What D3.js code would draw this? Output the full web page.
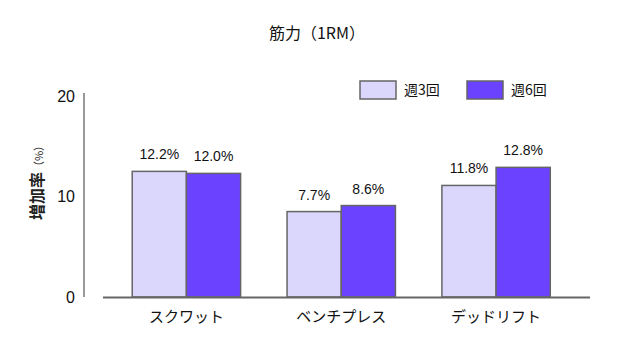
<!DOCTYPE html>
<html>
<head>
<meta charset="utf-8">
<script src="https://cdn.jsdelivr.net/npm/d3@7"></script>
<style>
  body { margin: 0; background: #fff; }
  text { font-family: "Liberation Sans", Arial, "Noto Sans CJK JP", sans-serif; }
  .jp { font-family: "Noto Sans CJK JP", sans-serif; }
</style>
</head>
<body>
<svg id="chart"></svg>
<script>
(() => {
let categories = ['スクワット', 'ベンチプレス', 'デッドリフト'];
let seriesNames = ['週3回', '週6回'];
// bar heights as drawn
let week3 = [12.5, 8.5, 11.1];
let week6 = [12.3, 9.1, 12.9];
// printed labels
let week3Labels = ['12.2%', '7.7%', '11.8%'];
let week6Labels = ['12.0%', '8.6%', '12.8%'];
let yTicks = [0, 10, 20];

let colors = ['#dad6fc', '#6a42ff'];

let svgWidth = 630,
    svgHeight = 352;

let svg = d3.select('#chart')
    .attr('width', svgWidth)
    .attr('height', svgHeight);

let x = d3.scaleBand()
    .domain(categories)
    .range([109, 573.5])
    .paddingInner(0.3)
    .paddingOuter(0.15);

let xSub = d3.scaleBand()
    .domain(seriesNames)
    .range([0, x.bandwidth()]);

let y = d3.scaleLinear()
    .domain([0, 20])
    .range([297, 96]);

// title
svg.append('text')
    .attr('class', 'jp')
    .attr('x', 317)
    .attr('y', 39)
    .attr('text-anchor', 'middle')
    .attr('font-size', 16)
    .attr('fill', '#111')
    .text('筋力（1RM）');

// y axis
let yAxis = d3.axisLeft(y)
    .tickValues(yTicks)
    .tickSize(0)
    .tickPadding(9);

let gy = svg.append('g')
    .attr('transform', 'translate(84,0)')
    .call(yAxis);
gy.select('.domain').remove();
gy.selectAll('text')
    .attr('font-size', 16)
    .attr('fill', '#111')
    .attr('font-family', '"Liberation Sans", Arial, sans-serif');

svg.append('line')
    .attr('x1', 84).attr('x2', 84)
    .attr('y1', 93).attr('y2', 297)
    .attr('stroke', '#777')
    .attr('stroke-width', 1.5);

// y title
let yTitle = svg.append('text')
    .attr('class', 'jp')
    .attr('transform', 'translate(43,180) rotate(-90)')
    .attr('text-anchor', 'middle')
    .attr('fill', '#222');
yTitle.append('tspan').attr('font-size', 16).attr('font-weight', 'bold').text('増加率');
yTitle.append('tspan').attr('font-size', 11).text('（%）');

// bars
let rows = categories.map((c, i) => ({
    cat: c,
    vals: [
        { s: seriesNames[0], v: week3[i], label: week3Labels[i] },
        { s: seriesNames[1], v: week6[i], label: week6Labels[i] }
    ]
}));

let groups = svg.selectAll('g.grp')
    .data(rows)
    .enter()
    .append('g')
    .attr('class', 'grp')
    .attr('transform', d => `translate(${x(d.cat)},0)`);

groups.selectAll('rect')
    .data(d => d.vals)
    .enter()
    .append('rect')
    .attr('x', d => xSub(d.s))
    .attr('y', d => y(d.v))
    .attr('width', xSub.bandwidth())
    .attr('height', d => y(0) - y(d.v))
    .attr('fill', (d, i) => colors[i])
    .attr('stroke', '#666')
    .attr('stroke-width', 1.5);

groups.selectAll('text.val')
    .data(d => d.vals)
    .enter()
    .append('text')
    .attr('class', 'val')
    .attr('x', d => xSub(d.s) + xSub.bandwidth() / 2)
    .attr('y', d => y(d.v) - 12)
    .attr('text-anchor', 'middle')
    .attr('font-size', 14)
    .attr('fill', '#111')
    .text(d => d.label);

// x axis
svg.append('line')
    .attr('x1', 103).attr('x2', 590)
    .attr('y1', 297.5).attr('y2', 297.5)
    .attr('stroke', '#666')
    .attr('stroke-width', 2);

let xAxis = d3.axisBottom(x).tickSize(0).tickPadding(14);
let gx = svg.append('g')
    .attr('transform', 'translate(0,297)')
    .call(xAxis);
gx.select('.domain').remove();
gx.selectAll('text')
    .attr('font-size', 15)
    .attr('fill', '#111')
    .attr('font-family', '"Noto Sans CJK JP", sans-serif');

// legend
let legend = svg.selectAll('g.leg')
    .data(seriesNames)
    .enter()
    .append('g')
    .attr('class', 'leg')
    .attr('transform', (d, i) => `translate(${360 + i * 107},81)`);

legend.append('rect')
    .attr('width', 36)
    .attr('height', 18)
    .attr('fill', (d, i) => colors[i])
    .attr('stroke', '#666')
    .attr('stroke-width', 1.5);

legend.append('text')
    .attr('class', 'jp')
    .attr('x', 44)
    .attr('y', 14)
    .attr('font-size', 14)
    .attr('fill', '#111')
    .text(d => d);
})();
</script>
</body>
</html>
